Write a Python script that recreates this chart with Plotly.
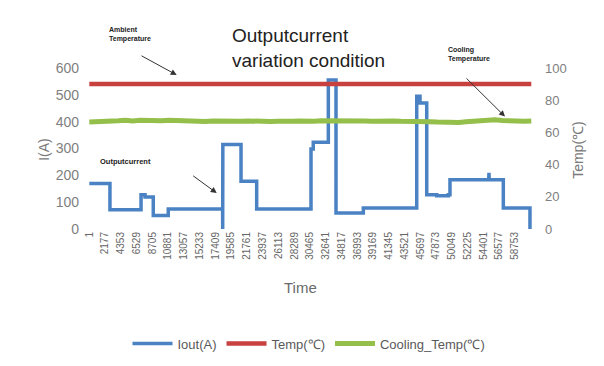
import plotly.graph_objects as go

# ---- data ----
tick_labels = ["1", "2177", "4353", "6529", "8705", "10881", "13057", "15233", "17409",
               "19585", "21761", "23937", "26113", "28289", "30465", "32641", "34817",
               "36993", "39169", "41345", "43521", "45697", "47873", "50049", "52225",
               "54401", "56577", "58753"]
tick_vals = [int(s) for s in tick_labels]

current_t = [1, 2850, 2850, 7140, 7140, 7690, 7690, 8830, 8830, 10900, 10900,
             18400, 18410, 18430, 20940, 20940, 23100, 23100, 30600, 30600,
             30910, 30910, 32990, 32990, 34050, 34050, 37820, 37820, 45190, 45190,
             45640, 45640, 46570, 46570, 47950, 47950, 49550, 49550, 49780, 49780,
             55130, 55160, 55190, 57140, 57140, 60820, 60820]
current_a = [170, 170, 72, 72, 128, 128, 119, 119, 50, 50, 75,
             75, 0, 315, 315, 178, 178, 75, 75, 298,
             298, 323, 323, 555, 555, 60, 60, 78, 78, 495,
             495, 470, 470, 128, 128, 124, 124, 128, 128, 184,
             184, 209, 184, 184, 78, 78, 0]

temp_t = [1, 61000]
temp_c = [90, 90]

cooling_t = list(range(0, 62000, 1000))
cooling_c = [66.4, 66.5, 66.3, 66.6,
             67.2, 67.5, 67.1, 67.6, 67.3, 67.5, 67.2, 67.6, 67.3, 67.4, 67.1,
             67.0, 66.8, 67.1, 66.9, 67.0, 67.2, 66.9, 67.1, 66.8, 67.0,
             66.8, 67.0, 66.7, 66.9, 67.1, 66.8, 67.0, 67.2, 67.3, 67.1,
             67.2, 67.0, 67.3, 67.1, 66.9, 67.2, 67.0, 67.1, 66.9, 67.0,
             66.9, 67.0, 66.6, 66.4, 66.2, 66.3,
             66.2, 66.6, 66.9, 67.3, 67.6,
             67.8, 67.4, 67.0, 67.2, 66.9, 67.1]

FONT = "Liberation Sans"
BLUE, RED, GREEN = "#4A82C4", "#C8413F", "#93BF4A"

fig = go.Figure()
fig.add_trace(go.Scatter(x=current_t, y=current_a, name="Iout(A)", mode="lines",
                         line=dict(color=BLUE, width=3.5)))
fig.add_trace(go.Scatter(x=temp_t, y=temp_c, name="Temp(℃)", mode="lines",
                         line=dict(color=RED, width=4.5), yaxis="y2"))
fig.add_trace(go.Scatter(x=cooling_t, y=cooling_c, name="Cooling_Temp(℃)", mode="lines",
                         line=dict(color=GREEN, width=5), yaxis="y2"))

OFF = 8  # page body margin
W, H = 596, 358
L, T = 88 - OFF, 68 - OFF
R = W - (532 - OFF)
B = H - (229.3 - OFF)
pw, ph = W - L - R, H - T - B


def px(x):
    return (x - OFF - L) / pw


def py(y):
    return (H - B - (y - OFF)) / ph


ann = []
ann.append(dict(x=px(230), y=py(48), xref="paper", yref="paper", xanchor="left",
                yanchor="middle", align="left", showarrow=False,
                text="Outputcurrent<br>variation condition",
                font=dict(family=FONT, size=19, color="#222")))
ann.append(dict(x=px(107), y=py(34), xref="paper", yref="paper", xanchor="left",
                yanchor="middle", align="left", showarrow=False,
                text="<b>Ambient<br>Temperature</b>",
                font=dict(family=FONT, size=7, color="#222")))
ann.append(dict(x=px(446), y=py(54), xref="paper", yref="paper", xanchor="left",
                yanchor="middle", align="left", showarrow=False,
                text="<b>Cooling<br>Temperature</b>",
                font=dict(family=FONT, size=7, color="#222")))
ann.append(dict(x=px(98), y=py(162), xref="paper", yref="paper", xanchor="left",
                yanchor="middle", align="left", showarrow=False,
                text="<b>Outputcurrent</b>",
                font=dict(family=FONT, size=7.5, color="#222")))
for (hx, hy, tx, ty) in [(176.7, 75, 140, 55), (505, 116.7, 465, 77), (216.7, 193.3, 191.7, 175)]:
    ann.append(dict(x=px(hx), y=py(hy), xref="paper", yref="paper", text="",
                    showarrow=True, ax=tx - hx, ay=ty - hy, arrowhead=2,
                    arrowsize=1.2, arrowwidth=1, arrowcolor="#333"))
ann.append(dict(x=px(34), y=py(150), xref="paper", yref="paper", showarrow=False,
                text="I(A)", textangle=-90,
                font=dict(family=FONT, size=14, color="#7a7a7a")))
ann.append(dict(x=px(588), y=py(150), xref="paper", yref="paper", showarrow=False,
                text="Temp(℃)", textangle=-90,
                font=dict(family=FONT, size=14, color="#7a7a7a")))
ann.append(dict(x=px(300), y=py(298), xref="paper", yref="paper", showarrow=False,
                text="Time", font=dict(family=FONT, size=15, color="#6a6a6a")))

fig.update_layout(
    width=W, height=H,
    margin=dict(l=L, r=R, t=T, b=B, pad=0, autoexpand=False),
    paper_bgcolor="white", plot_bgcolor="white",
    showlegend=True,
    legend=dict(orientation="h", x=px(309), y=py(344), xanchor="center", yanchor="middle",
                font=dict(family=FONT, size=13, color="#595959"), itemwidth=40,
                tracegroupgap=0),
    xaxis=dict(range=[-180, 61100], tickvals=tick_vals, ticktext=tick_labels,
               tickangle=-90, showgrid=False, zeroline=False, showline=False,
               automargin=False, ticks="", tickfont=dict(family=FONT, size=10, color="#666")),
    yaxis=dict(range=[0, 600], dtick=100, showgrid=False, zeroline=False, showline=False,
               automargin=False, ticks="", ticklabelstandoff=8,
               tickfont=dict(family=FONT, size=14, color="#808080")),
    yaxis2=dict(range=[0, 100], dtick=20, overlaying="y", side="right", showgrid=False,
                automargin=False, zeroline=False, showline=False, ticks="", ticklabelstandoff=12,
                tickfont=dict(family=FONT, size=13, color="#808080")),
    annotations=ann,
)

fig.write_html("out.html")
